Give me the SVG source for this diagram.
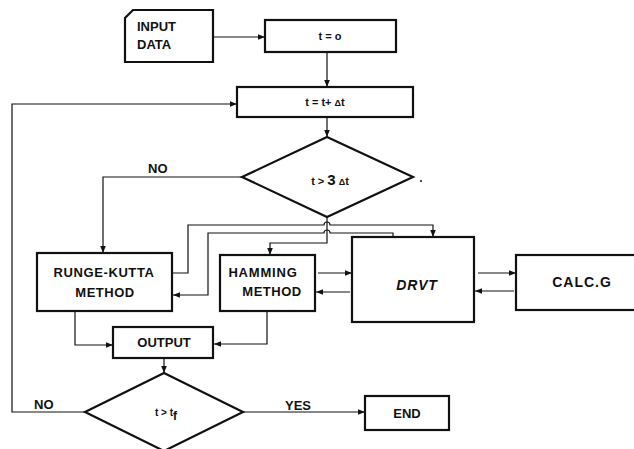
<svg xmlns="http://www.w3.org/2000/svg" width="634" height="449" viewBox="0 0 634 449">
<defs>
<marker id="ah" viewBox="0 0 10 10" refX="10" refY="5" markerWidth="7" markerHeight="7" markerUnits="userSpaceOnUse" orient="auto">
<path d="M0,1 L10,5 L0,9 Z" fill="#111"/>
</marker>
<style>
.box{fill:#fff;stroke:#111;stroke-width:2.2}
.dia{fill:#fff;stroke:#111;stroke-width:2.2}
.ln{fill:none;stroke:#111;stroke-width:1.2}
.arr{fill:none;stroke:#111;stroke-width:1.2;marker-end:url(#ah)}
.t{font-family:"Liberation Sans",Arial,sans-serif;font-weight:bold;fill:#111;text-anchor:middle}
.lbl{font-family:"Liberation Sans",Arial,sans-serif;font-weight:bold;fill:#111;font-size:13px}
</style>
</defs>
<rect width="634" height="449" fill="#fff"/>

<g id="connectors">
<path class="arr" d="M213,37 H265"/>
<path class="arr" d="M327,52 V87"/>
<path class="arr" d="M327,117 V137"/>
<path class="arr" d="M242,177 H103 V253"/>
<path class="arr" d="M327,217 V243 H270 V255"/>
<path class="arr" d="M172,273 H188 V225 H324 A3,3 0 0 1 330,225 H433 V237"/>
<path class="arr" d="M393,238 V233 H330 A3,3 0 0 0 324,233 H208 V295 H173"/>
<path class="arr" d="M318,273 H352"/>
<path class="arr" d="M350,292 H316"/>
<path class="arr" d="M478,273 H516"/>
<path class="arr" d="M514,291 H475"/>
<path class="arr" d="M75,311 V345 H113"/>
<path class="arr" d="M267,311 V344 H214"/>
<path class="arr" d="M164,358 V373"/>
<path class="arr" d="M85,412 H12 V104 H237"/>
<path class="arr" d="M243,412 H365"/>
<circle cx="421" cy="181" r="1" fill="#111"/>
</g>

<g id="input">
<path class="box" d="M133,10 H213 V62 H125 V18 Z"/>
<text class="lbl" x="137" y="31">INPUT</text>
<text class="lbl" x="137" y="49">DATA</text>
</g>

<g id="t0">
<rect class="box" x="265" y="20" width="131" height="32"/>
<text class="t" x="330" y="40" font-size="11">t = o</text>
</g>

<g id="tinc">
<rect class="box" x="237" y="87" width="176" height="30"/>
<text class="t" x="325" y="106" font-size="11">t = t+ <tspan font-size="9">Δ</tspan>t</text>
</g>

<g id="dec1">
<polygon class="dia" points="327,137 413,177 327,217 242,177"/>
<text class="t" x="330" y="185" font-size="11">t &gt; <tspan font-size="15">3</tspan> <tspan font-size="9">Δ</tspan>t</text>
</g>

<g id="rk">
<rect class="box" x="37" y="253" width="135" height="58"/>
<text class="t" x="104" y="277" font-size="13" letter-spacing="0.6">RUNGE-KUTTA</text>
<text class="t" x="105" y="297" font-size="13" letter-spacing="0.5">METHOD</text>
</g>

<g id="hamming">
<rect class="box" x="220" y="255" width="95" height="56"/>
<text class="t" x="263" y="277" font-size="13" letter-spacing="0.8">HAMMING</text>
<text class="t" x="272" y="296" font-size="13" letter-spacing="0.5">METHOD</text>
</g>

<g id="drvt">
<rect class="box" x="352" y="237" width="122" height="85"/>
<text class="t" x="417" y="290" font-size="14" font-style="italic" letter-spacing="0.8">DRVT</text>
</g>

<g id="calcg">
<rect class="box" x="516" y="255" width="125" height="55"/>
<text class="t" x="582" y="287" font-size="14" letter-spacing="1">CALC.G</text>
</g>

<g id="output">
<rect class="box" x="113" y="327" width="100" height="31"/>
<text class="t" x="164" y="347" font-size="13">OUTPUT</text>
</g>

<g id="dec2">
<polygon class="dia" points="164,373 243,412 164,451 85,412"/>
<text class="t" x="166" y="416" font-size="10">t &gt; t<tspan font-size="12" dy="4">f</tspan></text>
<text class="lbl" x="34" y="409">NO</text>
<text class="lbl" x="285" y="410">YES</text>
<text class="lbl" x="148" y="173">NO</text>
</g>

<g id="end">
<rect class="box" x="365" y="396" width="84" height="34"/>
<text class="t" x="407" y="418" font-size="13">END</text>
</g>
</svg>
